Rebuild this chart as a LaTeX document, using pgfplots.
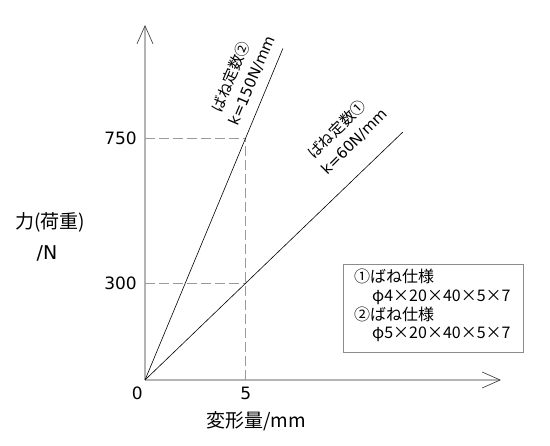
\documentclass[border=0pt]{standalone}
\usepackage{pgfplots}
\pgfplotsset{compat=1.18}
\usepackage{fontspec}
\setmainfont{DejaVu Sans}
\newfontfamily\jp{Noto Sans CJK JP}
\usetikzlibrary{arrows.meta}
\definecolor{axgray}{HTML}{B4B4B4}
\definecolor{dashgray}{HTML}{9A9A9A}
\definecolor{boxgray}{HTML}{8C8C8C}
\begin{document}
\begin{tikzpicture}
\useasboundingbox (0,0) rectangle (550bp,446bp);
\begin{axis}[
  at={(145bp,66bp)}, anchor=south west,
  scale only axis, width=356bp, height=355bp,
  xmin=0, xmax=17.68, ymin=0, ymax=1100,
  axis lines=left,
  axis line style={draw=axgray, line width=1.7bp,
    -{Straight Barb[length=18bp,width=16bp,line width=0.7bp,color=black!70]}},
  xtick={5}, ytick={300,750},
  xticklabels={5}, yticklabels={300,750},
  major tick length=0pt,
  /pgf/number format/assume math mode=true,
  tick label style={font=\fontsize{17bp}{17bp}\selectfont, inner sep=0pt},
  xticklabel style={anchor=north, yshift=-7bp},
  yticklabel style={anchor=east, xshift=-8bp},
  clip=false,
]
\addplot[dashgray, line width=0.9bp, dash pattern=on 10bp off 4bp] coordinates {(0,750) (5,750)};
\addplot[dashgray, line width=0.9bp, dash pattern=on 10bp off 4bp] coordinates {(0,300) (5,300)};
\addplot[dashgray, line width=0.9bp, dash pattern=on 10bp off 4bp] coordinates {(5,0) (5,750)};
\addplot[black, line width=0.6bp] coordinates {(0,0) (12.8,768)};
\addplot[black, line width=0.6bp] coordinates {(0,0) (6.85,1027.5)};
\node[anchor=north east, inner sep=0pt, font=\fontsize{17bp}{17bp}\selectfont] at (axis cs:-0.1,0) [yshift=-7bp] {0};
\node[anchor=base west, inner sep=0pt, rotate=67, font=\fontsize{15bp}{20.5bp}\selectfont] at (axis cs:4.60,784)
  {\begin{tabular}[b]{@{}l@{}}\hspace{6bp}\jp{ばね定数②}\\k=150N/mm\end{tabular}};
\node[anchor=base west, inner sep=0pt, rotate=45, font=\fontsize{15bp}{20.5bp}\selectfont] at (axis cs:9.05,633)
  {\begin{tabular}[b]{@{}l@{}}\hspace{2bp}\jp{ばね定数①}\\k=60N/mm\end{tabular}};
\end{axis}
\draw[boxgray, line width=1bp] (343bp,93bp) rectangle (523bp,181bp);
\begin{scope}[every node/.style={anchor=base west, inner sep=0pt, font=\jp\fontsize{16bp}{16bp}\selectfont}]
\node at (354bp,163bp) {①ばね仕様};
\node at (372bp,144bp) {φ4×20×40×5×7};
\node at (354bp,125bp) {②ばね仕様};
\node at (372bp,107bp) {φ5×20×40×5×7};
\end{scope}
\node[font=\fontsize{19bp}{19bp}\selectfont, inner sep=0pt] at (256bp,25bp) {\jp{変形量}/mm};
\node[font=\fontsize{19bp}{19bp}\selectfont, inner sep=0pt] at (50bp,224bp) {\jp{力}(\jp{荷重})};
\node[font=\fontsize{19bp}{19bp}\selectfont, inner sep=0pt] at (47bp,193bp) {/N};
\end{tikzpicture}
\end{document}
